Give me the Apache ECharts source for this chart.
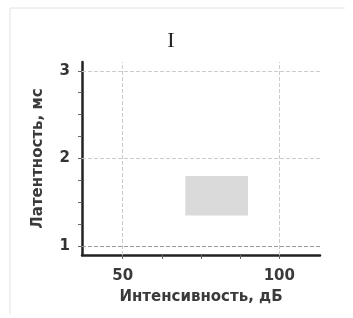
<!DOCTYPE html>
<html>
<head>
<meta charset="utf-8">
<script src="https://cdn.jsdelivr.net/npm/echarts@6/dist/echarts.min.js"></script>
<style>
  html, body { margin: 0; padding: 0; background: #fff; }
  #main { width: 353px; height: 318px; }
</style>
</head>
<body>
<div id="main"></div>
<script>
// данные графика
var xLabels = [50, 100];
var xTicks = [50, 62.5, 75, 87.5, 100];
var yLabels = [1, 2, 3];
var yTicks = [1, 1.25, 1.5, 1.75, 2, 2.25, 2.5, 2.75, 3];
var gridX = [50, 100];
var gridY = [1, 2, 3];
var boxX = [70, 90];
var boxY = [1.35, 1.8];

var myChart = echarts.init(document.getElementById('main'));

var gridLines = [];
gridX.forEach(function (v) { gridLines.push({ xAxis: v }); });
gridY.forEach(function (v) {
    gridLines.push({ yAxis: v, lineStyle: { color: v === 1 ? '#9a9a9a' : '#cccccc' } });
});

var option = {
    animation: false,
    backgroundColor: '#fff',
    title: {
        text: 'I',
        left: 166,
        top: 25,
        textAlign: 'center',
        textStyle: { fontFamily: 'Liberation Serif', fontSize: 22, fontWeight: 'normal', color: '#222' }
    },
    graphic: [
        { type: 'line', shape: { x1: 10, y1: 8, x2: 345, y2: 8 }, style: { stroke: '#e2e2e2', lineWidth: 1 } },
        { type: 'line', shape: { x1: 10, y1: 8, x2: 10, y2: 314 }, style: { stroke: '#e2e2e2', lineWidth: 1 } }
    ],
    grid: { left: 82, right: 33, top: 62, bottom: 63 },
    xAxis: {
        type: 'value',
        min: 37,
        max: 113,
        name: 'Интенсивность, дБ',
        nameLocation: 'middle',
        nameGap: 35,
        nameTextStyle: { fontFamily: 'DejaVu Sans', fontSize: 15, fontWeight: 'bold', color: '#3a3a3a' },
        axisLine: { onZero: false, lineStyle: { color: '#222', width: 2.5 } },
        axisTick: { show: true, customValues: xTicks, length: 4, lineStyle: { color: '#666' } },
        axisLabel: { customValues: xLabels, margin: 14, fontFamily: 'DejaVu Sans', fontSize: 15, fontWeight: 'bold', color: '#3a3a3a' },
        splitLine: { show: false }
    },
    yAxis: {
        type: 'value',
        min: 0.9,
        max: 3.1,
        name: 'Латентность, мс',
        nameLocation: 'middle',
        nameGap: 36,
        nameTextStyle: { fontFamily: 'DejaVu Sans', fontSize: 15, fontWeight: 'bold', color: '#3a3a3a' },
        axisLine: { show: true, onZero: false, lineStyle: { color: '#222', width: 2.5 } },
        axisTick: { show: true, customValues: yTicks, length: 4, lineStyle: { color: '#666' } },
        axisLabel: { customValues: yLabels, margin: 12, fontFamily: 'DejaVu Sans', fontSize: 15, fontWeight: 'bold', color: '#333' },
        splitLine: { show: false }
    },
    series: [
        {
            type: 'scatter',
            data: [],
            markLine: {
                silent: true,
                symbol: 'none',
                label: { show: false },
                lineStyle: { color: '#cccccc', type: 'dashed', width: 1 },
                data: gridLines
            },
            markArea: {
                silent: true,
                itemStyle: { color: '#dadada' },
                data: [[{ coord: [boxX[0], boxY[1]] }, { coord: [boxX[1], boxY[0]] }]]
            }
        }
    ]
};

myChart.setOption(option);
</script>
</body>
</html>
